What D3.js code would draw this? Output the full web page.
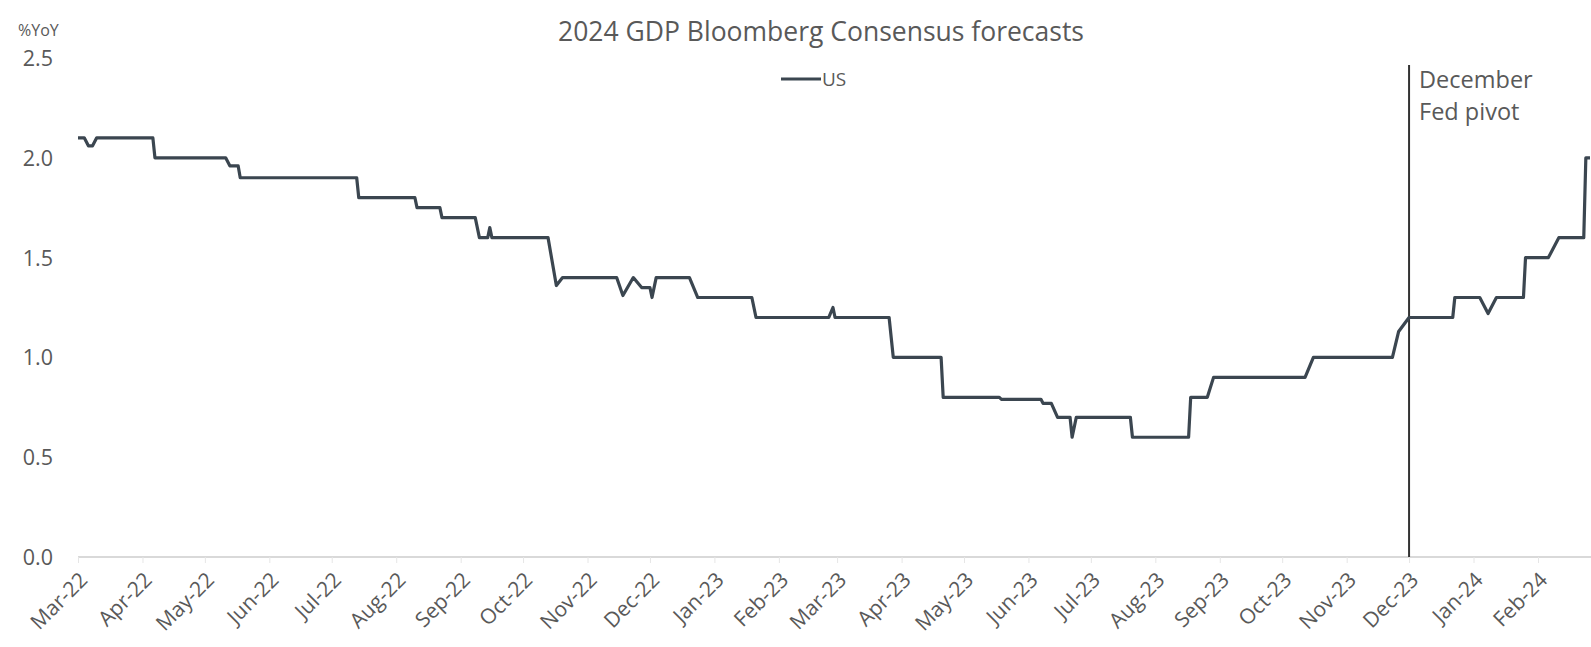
<!DOCTYPE html>
<html>
<head>
<meta charset="utf-8">
<script src="https://cdn.jsdelivr.net/npm/d3@7"></script>
<style>
  html, body { margin: 0; padding: 0; background: #fff; }
  svg text { font-family: "Open Sans", "Noto Sans", sans-serif; fill: #595959; }
</style>
</head>
<body>
<svg id="chart" width="1591" height="647"></svg>
<script>
// 2024 US GDP consensus forecast (%YoY), listed at each revision
const obsDates = [
  "2022-03-01","2022-03-04","2022-03-06","2022-03-08","2022-03-10","2022-04-06","2022-04-07",
  "2022-05-11","2022-05-13","2022-05-17","2022-05-18","2022-07-13","2022-07-14",
  "2022-08-10","2022-08-11","2022-08-22","2022-08-23","2022-09-08","2022-09-10",
  "2022-09-14","2022-09-15","2022-09-16","2022-10-13","2022-10-17","2022-10-20",
  "2022-11-15","2022-11-18","2022-11-23","2022-11-27","2022-12-01","2022-12-02","2022-12-04",
  "2022-12-20","2022-12-24","2023-01-19","2023-01-21","2023-02-25","2023-02-27","2023-02-28",
  "2023-03-26","2023-03-28","2023-04-20","2023-04-21","2023-05-18","2023-05-19",
  "2023-06-07","2023-06-08","2023-06-12","2023-06-15","2023-06-21","2023-06-22","2023-06-24",
  "2023-07-20","2023-07-21","2023-08-17","2023-08-18","2023-08-26","2023-08-29",
  "2023-10-12","2023-10-16","2023-11-23","2023-11-26","2023-12-01","2023-12-22","2023-12-23",
  "2024-01-04","2024-01-08","2024-01-12","2024-01-25","2024-01-26","2024-02-06","2024-02-11",
  "2024-02-23","2024-02-24","2024-02-26"
];
const usForecast = [
  2.1, 2.1, 2.06, 2.06, 2.1, 2.1, 2.0,
  2.0, 1.96, 1.96, 1.9, 1.9, 1.8,
  1.8, 1.75, 1.75, 1.7, 1.7, 1.6,
  1.6, 1.65, 1.6, 1.6, 1.36, 1.4,
  1.4, 1.31, 1.4, 1.35, 1.35, 1.3, 1.4,
  1.4, 1.3, 1.3, 1.2, 1.2, 1.25, 1.2,
  1.2, 1.0, 1.0, 0.8, 0.8, 0.79,
  0.79, 0.77, 0.77, 0.7, 0.7, 0.6, 0.7,
  0.7, 0.6, 0.6, 0.8, 0.8, 0.9,
  0.9, 1.0, 1.0, 1.13, 1.2, 1.2, 1.3,
  1.3, 1.22, 1.3, 1.3, 1.5, 1.5, 1.6,
  1.6, 2.0, 2.0
];
const yTicks = [0.0, 0.5, 1.0, 1.5, 2.0, 2.5];
const monthTicks = [
  "2022-03-01","2022-04-01","2022-05-01","2022-06-01","2022-07-01","2022-08-01",
  "2022-09-01","2022-10-01","2022-11-01","2022-12-01","2023-01-01","2023-02-01",
  "2023-03-01","2023-04-01","2023-05-01","2023-06-01","2023-07-01","2023-08-01",
  "2023-09-01","2023-10-01","2023-11-01","2023-12-01","2024-01-01","2024-02-01"
];
const pivotDate = "2023-12-01";
const pivotLabel = ["December", "Fed pivot"];
const chartTitle = "2024 GDP Bloomberg Consensus forecasts";
const seriesName = "US";
const yUnit = "%YoY";

const parse = d3.utcParse("%Y-%m-%d");
const series = obsDates.map((d, i) => ({ date: parse(d), value: usForecast[i] }));

const svg = d3.select("#chart");
const plotLeft = 78, plotRight = 1590, plotTop = 58, plotBottom = 557;

const x = d3.scaleUtc()
  .domain([parse(obsDates[0]), parse(obsDates[obsDates.length - 1])])
  .range([plotLeft, plotRight]);
const y = d3.scaleLinear().domain([0, 2.5]).range([plotBottom, plotTop]);

// title
svg.append("text")
  .attr("x", 821).attr("y", 41)
  .attr("text-anchor", "middle")
  .style("font-size", "26.5px")
  .text(chartTitle);

// legend
svg.append("line")
  .attr("x1", 781).attr("x2", 821).attr("y1", 79).attr("y2", 79)
  .attr("stroke", "#3b4650").attr("stroke-width", 3);
svg.append("text")
  .attr("x", 822).attr("y", 86)
  .style("font-size", "19px")
  .text(seriesName);

// y axis (labels only)
const yAxis = svg.append("g")
  .attr("transform", `translate(${plotLeft - 25},0)`)
  .call(d3.axisLeft(y).tickValues(yTicks).tickFormat(d3.format(".1f")).tickSize(0).tickPadding(0));
yAxis.select(".domain").remove();
yAxis.selectAll("text")
  .attr("dy", "0.35em")
  .style("font-size", "21.5px")
  .style("font-family", "'Open Sans', sans-serif")
  .attr("fill", "#595959");

svg.append("text")
  .attr("x", 18).attr("y", 36)
  .style("font-size", "16px")
  .text(yUnit);

// x axis
const xAxis = svg.append("g")
  .attr("transform", `translate(0,${plotBottom})`)
  .call(d3.axisBottom(x).tickValues(monthTicks.map(parse)).tickFormat(d3.utcFormat("%b-%y")).tickSize(6).tickPadding(0));
xAxis.select(".domain").attr("stroke", "#d9d9d9").attr("stroke-width", 2)
  .attr("d", `M${plotLeft},0H${plotRight + 1}`);
xAxis.selectAll(".tick line").attr("stroke", "#e6e6e6");
xAxis.selectAll("text")
  .attr("text-anchor", "end")
  .attr("dy", "0")
  .attr("transform", "translate(6,20) rotate(-45)")
  .style("font-size", "21px")
  .style("font-family", "'Open Sans', sans-serif")
  .attr("fill", "#595959");

// December pivot marker
const px = x(parse(pivotDate));
svg.append("line")
  .attr("x1", px).attr("x2", px).attr("y1", 65).attr("y2", plotBottom)
  .attr("stroke", "#333").attr("stroke-width", 2);
svg.append("text")
  .attr("x", px + 10).attr("y", 88)
  .style("font-size", "23.5px")
  .selectAll("tspan").data(pivotLabel).join("tspan")
  .attr("x", px + 10).attr("dy", (d, i) => i === 0 ? 0 : 32)
  .text(d => d);

// series line
const line = d3.line().x(d => x(d.date)).y(d => y(d.value));
svg.append("path")
  .datum(series)
  .attr("fill", "none")
  .attr("stroke", "#3b4650")
  .attr("stroke-width", 3.2)
  .attr("stroke-linejoin", "round")
  .attr("d", line);
</script>
</body>
</html>
